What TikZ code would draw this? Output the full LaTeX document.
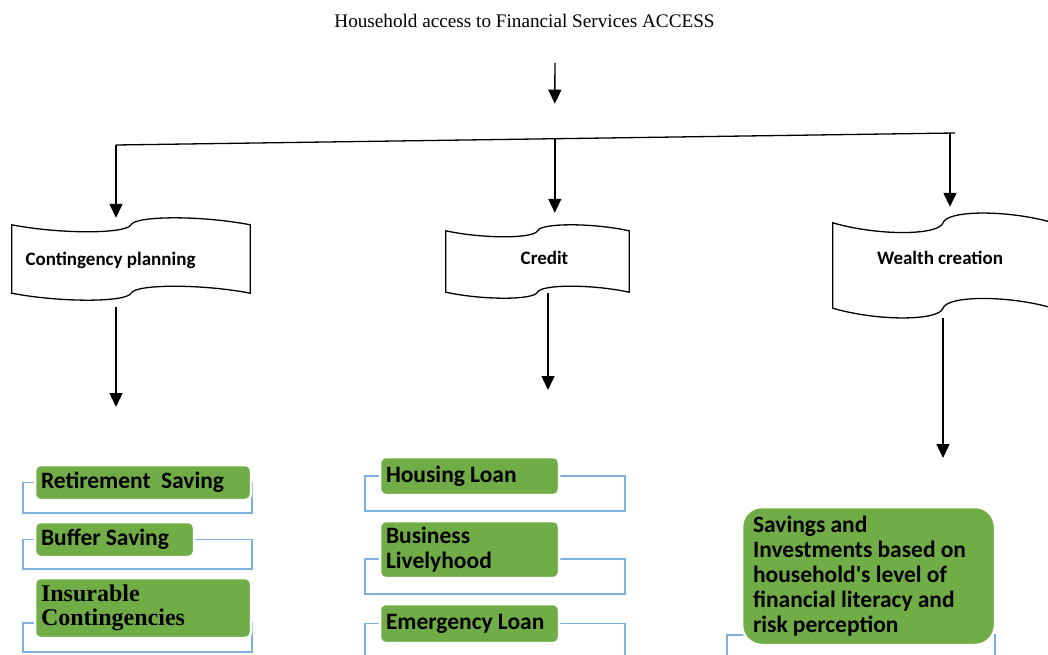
\documentclass[tikz,border=0pt]{standalone}
\usepackage{fontspec}
\setmainfont{Liberation Serif}
\newfontfamily\calibri{Carlito}
\usetikzlibrary{arrows.meta,calc,positioning}
\definecolor{leafgreen}{RGB}{112,173,71}
\definecolor{bracketblue}{RGB}{126,176,222}
\tikzset
{
    tapebox/.style  = {rectangle, draw=none, inner sep=0pt},
    tapeline/.style = {line width=1.3pt},
    doclabel/.style = {font=\calibri\bfseries\fontsize{19}{22}\selectfont, anchor=base, inner sep=0pt},
    leaf/.style     = {rectangle, rounded corners=6pt, fill=leafgreen, draw=white, line width=2.5pt, align=left, inner xsep=6pt, inner ysep=0pt, font=\calibri\bfseries\fontsize{23.5}{25}\selectfont, execute at begin node={\spaceskip=0.22em\relax}},
    bracket/.style  = {draw=bracketblue, line width=1.5pt},
    arrow/.style    = {line width=1.4pt, -{Triangle[length=14pt,width=13pt]}},
}
% wavy (punched tape) outline round a named node, #2 = bend
\newcommand{\tapeoutline}[2]{%
  \draw[tapeline] (#1.north west)
    .. controls ($(#1.north west)!0.2!(#1.north east)+(0,#2)$) and ($(#1.north west)!0.48!(#1.north east)+(0,#2)$) .. (#1.north)
    .. controls ($(#1.north west)!0.52!(#1.north east)+(0,-#2)$) and ($(#1.north west)!0.8!(#1.north east)+(0,-#2)$) .. (#1.north east)
    -- (#1.south east)
    .. controls ($(#1.south west)!0.8!(#1.south east)+(0,-#2)$) and ($(#1.south west)!0.52!(#1.south east)+(0,-#2)$) .. (#1.south)
    .. controls ($(#1.south west)!0.48!(#1.south east)+(0,#2)$) and ($(#1.south west)!0.2!(#1.south east)+(0,#2)$) .. (#1.south west)
    -- cycle;}

\begin{document}
\begin{tikzpicture}[x=1pt, y=-1pt]
	\useasboundingbox (0,0) rectangle (1048,655);

	\node (title) [anchor=base, inner sep=0pt, font=\fontsize{19.2}{22}\selectfont] at (524.5,28) {Household access to Financial Services ACCESS};

	% the three headings
	\node (cont)   [tapebox, minimum width=238pt, minimum height=68pt] at (131,259) {};
	\node (cred)   [tapebox, minimum width=183pt, minimum height=61pt] at (537.5,261.5) {};
	\node (wealth) [tapebox, minimum width=220pt, minimum height=85pt] at (943,265.5) {};
	\tapeoutline{cont}{9.3}
	\tapeoutline{cred}{8}
	\tapeoutline{wealth}{13}
	\node (contlbl)   [doclabel] at (110.5,265) {Contingency planning};
	\node (credlbl)   [doclabel] at (544.5,264) {Credit};
	\node (wealthlbl) [doclabel] at (940,264) {Wealth creation};

	% splitter
	\coordinate (accessin) at (555,63);
	\coordinate (barL) at (116,145);
	\coordinate (barR) at (955,133);
	\coordinate (barM) at ($(barL)!0.523!(barR)$);
	\coordinate (barW) at ($(barL)!0.994!(barR)$);
	\draw[tapeline] (barL) -- (barR);
	\draw[arrow] (accessin) -- ([yshift=35pt]barM);
	\draw[arrow, shorten >=7pt]  (barL) -- (barL |- cont.north);
	\draw[arrow, shorten >=18pt] (barM) -- (barM |- cred.north);
	\draw[arrow, shorten >=16pt] (barW) -- (barW |- wealth.north);

	\coordinate (contout) at (116,407);
	\coordinate (credout) at (548,390);
	\coordinate (wealthout) at (943,458);
	\draw[arrow, shorten <=14pt] (cont.south -| contout) -- (contout);
	\draw[arrow, shorten <=1pt]  (cred.south -| credout) -- (credout);
	\draw[arrow, shorten <=10pt] (wealth.south) -- (wealthout);

	% blue brackets
	\draw[bracket] (23,482.5) rectangle (252,513);
	\draw[bracket] (23,539.5) rectangle (252,569);
	\draw[bracket] (23,623) rectangle (252,652);
	\draw[bracket] (365,476) rectangle (625,511);
	\draw[bracket] (365,559) rectangle (625,594);
	\draw[bracket] (365,623.5) rectangle (625,665);
	\draw[bracket] (727,635) rectangle (995,665);

	% green items
	\node (ret) [leaf, text width=204pt, minimum height=35pt] at (143,482.5) {Retirement~ Saving};
	\node (buf) [leaf, text width=147pt, minimum height=35pt] at (114.5,539.5) {Buffer Saving};
	\node (ins) [leaf, text width=204pt, minimum height=60pt, font=\bfseries\fontsize{24}{23.5}\selectfont] at (143,608) {Insurable\\Contingencies};
	\node (hous) [leaf, text width=167pt, minimum height=38pt] at (469.5,476) {Housing Loan};
	\node (bus)  [leaf, text width=167pt, minimum height=57pt] at (469.5,549.5) {Business\\Livelyhood};
	\node (emer) [leaf, text width=167pt, minimum height=39pt] at (469.5,623.5) {Emergency Loan};
	\node (sav)  [leaf, rounded corners=20pt, text width=231pt, inner xsep=11pt, minimum height=138pt] at (868.5,576) {Savings and\\Investments based on\\household's level of\\financial literacy and\\risk perception};
\end{tikzpicture}
\end{document}
